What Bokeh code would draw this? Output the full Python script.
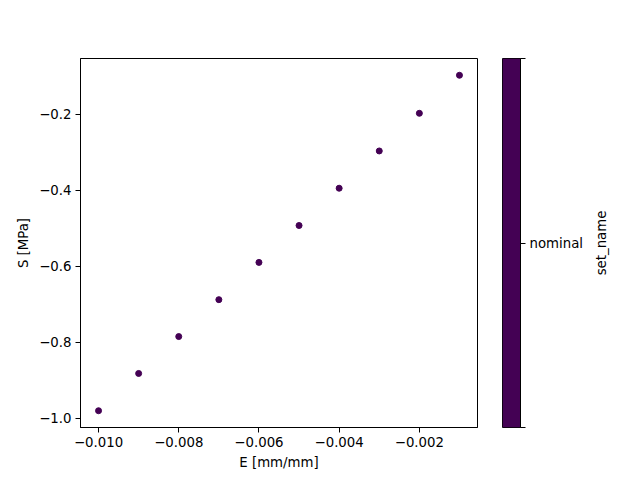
from bokeh.plotting import figure
from bokeh.models import FixedTicker, Range1d
from bokeh.layouts import row
from bokeh.embed import file_html
from bokeh.resources import INLINE

# data
strain = [-0.010, -0.009, -0.008, -0.007, -0.006, -0.005, -0.004, -0.003, -0.002, -0.001]
stress = [-0.980, -0.882, -0.785, -0.688, -0.590, -0.493, -0.395, -0.297, -0.198, -0.098]
set_names = ["nominal"]
set_colors = ["#440154"]
x_ticks = [-0.010, -0.008, -0.006, -0.004, -0.002]
x_tick_labels = ["\u22120.010", "\u22120.008", "\u22120.006", "\u22120.004", "\u22120.002"]
y_ticks = [-1.0, -0.8, -0.6, -0.4, -0.2]
y_tick_labels = ["\u22121.0", "\u22120.8", "\u22120.6", "\u22120.4", "\u22120.2"]

FONT = "DejaVu Sans"
FS = "13.3px"


def style_axis(ax):
    ax.axis_line_color = "black"
    ax.major_tick_line_color = "black"
    ax.major_tick_in = 0
    ax.major_tick_out = 5
    ax.minor_tick_line_color = None
    ax.major_label_text_font = FONT
    ax.major_label_text_font_size = FS
    ax.major_label_text_color = "black"
    ax.major_label_standoff = 4
    ax.axis_label_text_font = FONT
    ax.axis_label_text_font_size = FS
    ax.axis_label_text_font_style = "normal"
    ax.axis_label_text_color = "black"
    ax.axis_label_standoff = 5


p = figure(width=490, height=480, output_backend="svg", toolbar_location=None,
           x_range=Range1d(-0.01045, -0.00055), y_range=Range1d(-1.0241, -0.0539),
           min_border_left=80, min_border_right=13, min_border_top=58, min_border_bottom=53)
p.xgrid.visible = False
p.ygrid.visible = False
p.outline_line_color = "black"
p.outline_line_alpha = 1
p.background_fill_color = "white"
p.border_fill_color = "white"
p.scatter(strain, stress, size=6, color=set_colors[0], line_color=set_colors[0])
p.xaxis.ticker = FixedTicker(ticks=x_ticks)
p.xaxis.major_label_overrides = dict(zip(x_ticks, x_tick_labels))
p.yaxis.ticker = FixedTicker(ticks=y_ticks)
p.yaxis.major_label_overrides = dict(zip(y_ticks, y_tick_labels))
p.xaxis.axis_label = "E [mm/mm]"
p.yaxis.axis_label = "S [MPa]"
style_axis(p.xaxis[0])
style_axis(p.yaxis[0])

# colorbar as a separate figure
cb = figure(width=100, height=480, output_backend="svg", toolbar_location=None,
            x_range=Range1d(0, 1), y_range=Range1d(0, len(set_names)),
            y_axis_location="right",
            min_border_left=12, min_border_right=70, min_border_top=58, min_border_bottom=53)
cb.xgrid.visible = False
cb.ygrid.visible = False
cb.xaxis.visible = False
cb.outline_line_color = "black"
cb.outline_line_alpha = 1
cb.border_fill_color = "white"
cb.quad(left=0, right=1, bottom=[i for i in range(len(set_names))],
        top=[i + 1 for i in range(len(set_names))], fill_color=set_colors, line_color=None)
cb_ticks = [0, 0.5, 1]
cb.yaxis.ticker = FixedTicker(ticks=cb_ticks)
cb.yaxis.major_label_overrides = {0: "", 0.5: set_names[0], 1: ""}
style_axis(cb.yaxis[0])

# colorbar title (reads bottom-to-top, centred on the bar)
lab = figure(width=50, height=480, output_backend="svg", toolbar_location=None,
             x_range=Range1d(0, 1), y_range=Range1d(0, 1),
             min_border_left=16, min_border_right=24, min_border_top=58, min_border_bottom=53)
lab.xgrid.visible = False
lab.ygrid.visible = False
lab.xaxis.visible = False
lab.outline_line_color = None
lab.border_fill_color = "white"
lab.background_fill_color = "white"
style_axis(lab.yaxis[0])
lab.yaxis.ticker = FixedTicker(ticks=[])
lab.yaxis.axis_line_color = None
lab.yaxis.major_tick_out = 0
lab.yaxis.axis_label_standoff = 0
lab.yaxis.axis_label = "set_name"

layout = row(p, cb, lab)
open("out.html", "w").write(file_html(layout, INLINE))
